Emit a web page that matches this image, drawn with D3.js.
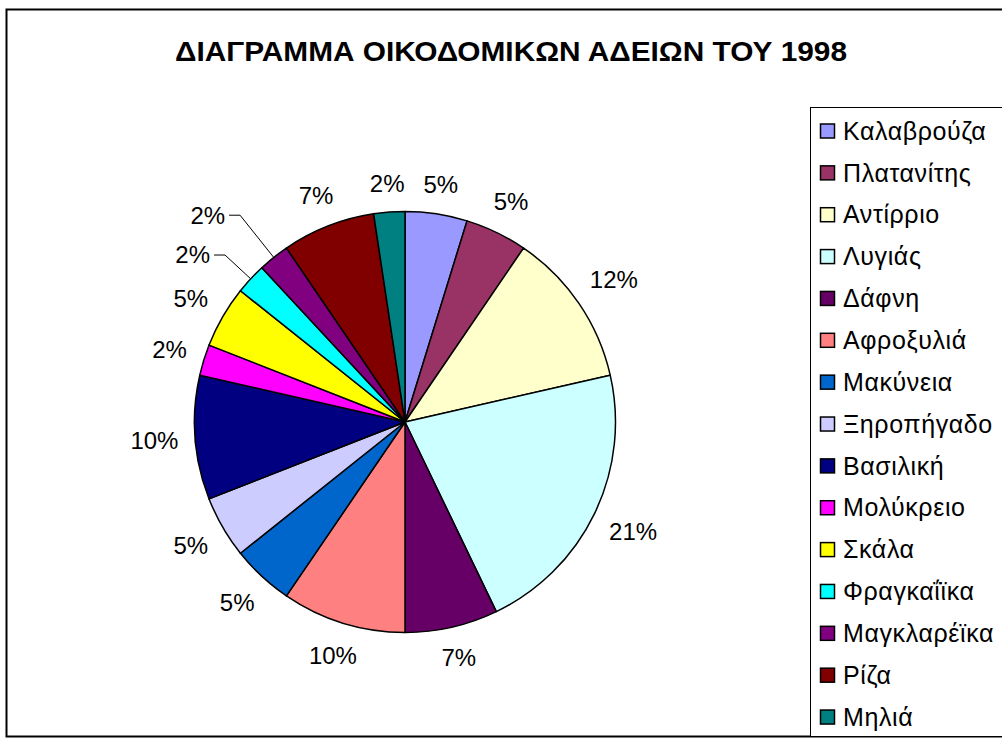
<!DOCTYPE html>
<html>
<head>
<meta charset="utf-8">
<script src="https://cdn.jsdelivr.net/npm/d3@7"></script>
<style>
  body { margin: 0; background: #fff; }
  text { font-family: Arial, "Liberation Sans", sans-serif; fill: #000; }
</style>
</head>
<body>
<div id="chart"></div>
<script>
const chartTitle = "ΔΙΑΓΡΑΜΜΑ ΟΙΚΟΔΟΜΙΚΩΝ ΑΔΕΙΩΝ ΤΟΥ 1998";
const villages = ["Καλαβρούζα", "Πλατανίτης", "Αντίρριο", "Λυγιάς", "Δάφνη", "Αφροξυλιά", "Μακύνεια",
    "Ξηροπήγαδο", "Βασιλική", "Μολύκρειο", "Σκάλα", "Φραγκαΐϊκα", "Μαγκλαρέϊκα", "Ρίζα", "Μηλιά"];
const permits = [2, 2, 5, 9, 3, 4, 2, 2, 4, 1, 2, 1, 1, 3, 1];
const sliceColors = ["#9999FF", "#993366", "#FFFFCC", "#CCFFFF", "#660066", "#FF8080", "#0066CC",
    "#CCCCFF", "#000080", "#FF00FF", "#FFFF00", "#00FFFF", "#800080", "#800000", "#008080"];

const width = 1002;
const height = 743;

const svg = d3.select("#chart")
    .append("svg")
    .attr("width", width)
    .attr("height", height);

// chart frame
svg.append("rect")
    .attr("x", 6.5).attr("y", 9.5)
    .attr("width", 1020).attr("height", 727)
    .attr("fill", "#fff")
    .attr("stroke", "#000")
    .attr("stroke-width", 2);

svg.append("text")
    .attr("x", 511)
    .attr("y", 61)
    .attr("text-anchor", "middle")
    .style("font-size", "28px")
    .style("font-weight", "bold")
    .attr("textLength", 672)
    .attr("lengthAdjust", "spacingAndGlyphs")
    .text(chartTitle);

// pie
const cx = 405, cy = 422, r = 210.5;
const total = d3.sum(permits);
const color = d3.scaleOrdinal().domain(villages).range(sliceColors);

const arcs = d3.pie().sort(null).value(d => d)(permits);
const arc = d3.arc().innerRadius(0).outerRadius(r);

const g = svg.append("g").attr("transform", `translate(${cx},${cy})`);

g.selectAll("path.slice")
    .data(arcs)
    .enter().append("path")
    .attr("class", "slice")
    .attr("d", arc)
    .attr("fill", (d, i) => color(villages[i]))
    .attr("stroke", "#000")
    .attr("stroke-width", 1.5)
    .attr("stroke-linejoin", "round");

// percentage labels
const labels = g.selectAll("text.pct")
    .data(arcs)
    .enter().append("text")
    .attr("class", "pct")
    .attr("text-anchor", "middle")
    .attr("dy", "0.35em")
    .style("font-size", "24px")
    .text(d => Math.round(d.value / total * 100) + "%");

const gap = 16, boxH = 23, padX = 3, padY = 8;

const info = [];
labels.each(function (d) {
    const w = this.getComputedTextLength();
    const a = (d.startAngle + d.endAngle) / 2;
    info.push({ w, s: Math.sin(a), c: -Math.cos(a) });
});

// natural spot just outside the rim, or moved out on a leader line (e > 0)
function spot(i, e) {
    const { w, s, c } = info[i];
    let x, y, elbow = null;
    if (e === 0) {
        const proj = w / 2 * Math.abs(s) + boxH / 2 * Math.abs(c);
        x = (r + gap + proj) * s;
        y = (r + gap + proj) * c;
    } else {
        elbow = [(r + gap + e) * s, (r + gap + e) * c];
        x = elbow[0] + Math.sign(s) * (15 + w / 2);
        y = elbow[1];
    }
    return { x, y, elbow, x0: x - w / 2, x1: x + w / 2, y0: y - boxH / 2, y1: y + boxH / 2 };
}

function overlap(p, q) {
    return p.x0 - padX < q.x1 + padX && p.x1 + padX > q.x0 - padX &&
        p.y0 - padY < q.y1 + padY && p.y1 + padY > q.y0 - padY;
}

const pos = info.map((_, i) => spot(i, 0));
for (let i = 1; i < pos.length; i++) {
    if (overlap(pos[i], pos[i - 1])) {
        // crowded neighbours: pull both out, the later one twice as far
        let e = 1;
        while (e < 100 && overlap(spot(i - 1, e), spot(i, 2 * e))) e += 1;
        pos[i - 1] = spot(i - 1, e);
        pos[i] = spot(i, 2 * e);
    }
}

labels
    .attr("x", (d, i) => pos[i].x)
    .attr("y", (d, i) => pos[i].y);

g.selectAll("polyline.leader")
    .data(pos.map((p, i) => ({ p, i })).filter(o => o.p.elbow))
    .enter().append("polyline")
    .attr("class", "leader")
    .attr("points", ({ p, i }) => {
        const { w, s, c } = info[i];
        const edgeX = p.x - Math.sign(s) * (w / 2 + 4);
        return [[r * s, r * c], p.elbow, [edgeX, p.y]].map(q => q.join(",")).join(" ");
    })
    .attr("fill", "none")
    .attr("stroke", "#000")
    .attr("stroke-width", 1);

// legend
const legend = svg.append("g");

legend.append("rect")
    .attr("x", 810.5).attr("y", 107.5)
    .attr("width", 250).attr("height", 629)
    .attr("fill", "#fff")
    .attr("stroke", "#000")
    .attr("stroke-width", 1);

const rowY = d3.scalePoint()
    .domain(villages)
    .range([131, 131 + 14 * 41.86]);

const rows = legend.selectAll("g.row")
    .data(villages)
    .enter().append("g")
    .attr("class", "row")
    .attr("transform", d => `translate(0,${rowY(d)})`);

rows.append("rect")
    .attr("x", 820.5).attr("y", -7)
    .attr("width", 14).attr("height", 14)
    .attr("fill", d => color(d))
    .attr("stroke", "#000")
    .attr("stroke-width", 1.5);

rows.append("text")
    .attr("x", 843)
    .attr("dy", "0.35em")
    .style("font-size", "25px")
    .style("letter-spacing", "0.6px")
    .text(d => d);
</script>
</body>
</html>
